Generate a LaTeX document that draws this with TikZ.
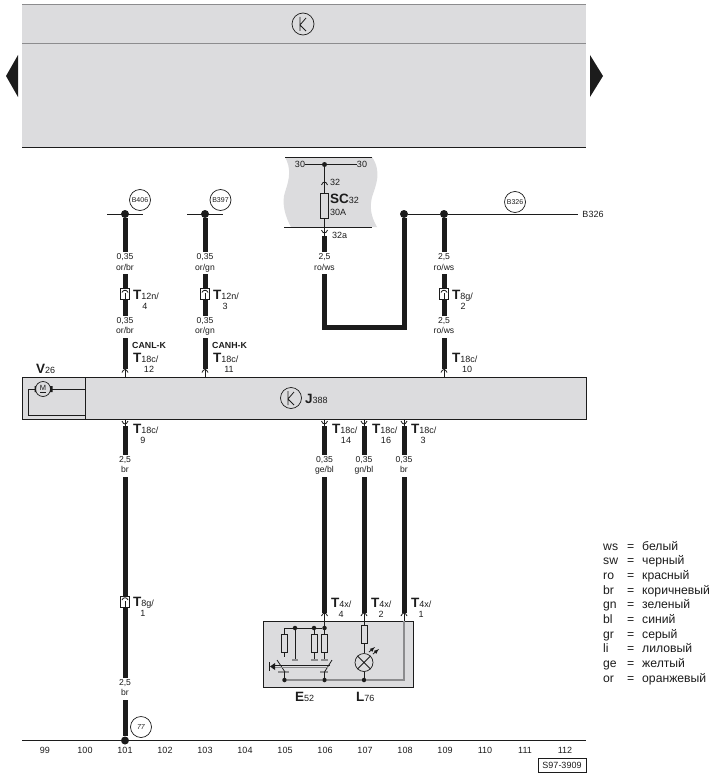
\documentclass[tikz,border=0pt]{standalone}
\usepackage{fontspec}
\setmainfont{Liberation Sans}
\usetikzlibrary{positioning}
\definecolor{panelGray}{HTML}{DCDCDE}
\definecolor{ruleGray}{HTML}{8C8C8E}
\definecolor{ink}{HTML}{1C1C1C}
\tikzset{
    wire/.style={ink, line width=5pt},
    thinwire/.style={ink, line width=0.8pt},
    greywire/.style={ruleGray, line width=1.3pt},
    dot/.style={circle, fill=ink, inner sep=0pt, minimum size=#1},
    tag/.style={circle, draw=ink, line width=0.7pt, inner sep=0pt, minimum size=21pt, font=\fontsize{7}{8}\selectfont, text=ink},
    wirelabel/.style={fill=white, inner sep=0pt, minimum height=22pt, align=center, text=ink, font=\fontsize{8.6}{10.4}\selectfont},
    plugbox/.style={rectangle, draw=ink, fill=white, line width=0.7pt, inner sep=0pt, minimum width=9.5pt, minimum height=11pt},
    plain/.style={inner sep=0pt, text=ink, font=\fontsize{9}{10}\selectfont},
    pinname/.style={plain, anchor=base west},
    legend/.style={plain, anchor=base west, font=\fontsize{12.2}{13}\selectfont},
    resistor/.style={rectangle, draw=ink, line width=0.7pt, inner sep=0pt, minimum width=6pt, minimum height=18pt},
    bar/.style={ruleGray, line width=1.3pt},
    pincap/.pic={\draw[thinwire] (-3,2.5) .. controls (-1.5,-1.5) and (1.5,-1.5) .. (3,2.5);}
}
\newcommand{\tname}[2]{{\fontsize{13.5}{14}\selectfont\textbf{#1}}{\fontsize{9}{10}\selectfont #2}}

\begin{document}
\begin{tikzpicture}[x=1pt, y=-1pt]
    \useasboundingbox (0, 0) rectangle (717, 776);

    % upper panel
    \fill[panelGray] (22, 5) rectangle (586, 147);
    \draw[ruleGray, line width=1pt] (22, 5) -- (586, 5);
    \draw[ruleGray, line width=1pt] (22, 44) -- (586, 44);
    \draw[ink, line width=0.8pt] (22, 147) -- (586, 147);
    \fill[ink] (18, 55) -- (6, 76) -- (18, 97) -- cycle;
    \fill[ink] (590, 55) -- (603, 76) -- (590, 97) -- cycle;
    \node[tag, minimum size=22pt] (kTop) at (303, 24) {};
    \draw[thinwire] (300, 17) -- (300, 31) (306, 18) -- (300, 25) -- (306, 31);

    % fuse block
    \fill[panelGray] (285, 157) .. controls (291, 168) and (290, 178) .. (285, 192)
        .. controls (281, 204) and (286, 218) .. (291, 227) -- (377, 227)
        .. controls (370, 215) and (370, 206) .. (372, 197)
        .. controls (376, 185) and (382, 172) .. (372, 157) -- cycle;
    \draw[thinwire] (285, 157.5) -- (372, 157.5);
    \draw[thinwire] (284, 227) -- (372, 227);
    \node[plain] (t30a) at (300, 164.5) {30};
    \node[plain] (t30b) at (362, 164.5) {30};
    \node[dot=5pt] (n30) at (324.5, 164.5) {};
    \draw[thinwire] (t30a) -- (n30) -- (t30b);
    \node[rectangle, draw=ink, line width=0.7pt, inner sep=0pt, minimum width=7.5pt, minimum height=25pt] (sc) at (324.5, 205.5) {};
    \coordinate (pinSC) at (324.5, 236);
    \draw[thinwire] (n30) -- (sc.north);
    \draw[thinwire] (sc.south) -- (pinSC);
    \pic at (324.5, 182.5) {pincap};
    \pic[yscale=-1] at (324.5, 232.5) {pincap};
    \node[plain, anchor=west] at (330, 182) {32};
    \node[inner sep=0pt, anchor=base west, text=ink] at (330, 203) {\fontsize{13.5}{14}\selectfont\textbf{SC}\fontsize{9}{10}\selectfont 32};
    \node[plain, anchor=west] at (330, 212) {30A};
    \node[plain, anchor=west] at (332, 235) {32a};

    % control unit box
    \node[rectangle, draw=ink, fill=panelGray, line width=0.8pt, inner sep=0pt, minimum width=564pt, minimum height=42pt, anchor=north west] (j388) at (22, 377) {};
    \draw[thinwire] (85, 377) -- (85, 419);
    \node[tag] (kUnit) at (291, 398) {};
    \draw[thinwire] (288, 391) -- (288, 405) (294, 392) -- (288, 399) -- (294, 405);
    \node[inner sep=0pt, anchor=base west, text=ink] at (305, 403) {\tname{J}{388}};
    \node[inner sep=0pt, anchor=base west, text=ink] at (36, 373) {\tname{V}{26}};
    \node[circle, draw=ink, line width=0.7pt, inner sep=0pt, minimum size=15pt, text=ink, font=\fontsize{7.5}{8}\selectfont] (motor) at (43, 389) {\underline{M}};
    \fill[ink] (34.5, 386) rectangle (36, 392) (50, 386) rectangle (52.5, 392);
    \draw[thinwire] (motor) -- (85, 389);
    \draw[thinwire] (motor) -- (28, 389) -- (28, 415) -- (85, 415);

    % upper tags and the B326 rail
    \foreach \cX/\cName in {125/B406, 205/B397}
        \draw[thinwire] (\cX-18, 214) -- (\cX+18, 214);
    \node[dot=8pt] (jB406) at (125, 214) {};
    \node[dot=8pt] (jB397) at (205, 214) {};
    \node[dot=8pt] (jLoop) at (404, 214) {};
    \node[dot=8pt] (jB326) at (444, 214) {};
    \node[plain, inner xsep=4pt] (railEnd) at (593, 214) {B326};
    \draw[thinwire] (jLoop) -- (jB326) -- (railEnd);
    \node[tag] at (140, 200) {B406};
    \node[tag] at (220.5, 200) {B397};
    \node[tag] at (515, 202) {B326};

    % thick wires
    \coordinate (pinA) at (125, 369);
    \coordinate (pinB) at (205, 369);
    \coordinate (pinC) at (444, 369);
    \coordinate (pinD) at (125, 426);
    \coordinate (pinE) at (324.5, 426);
    \coordinate (pinF) at (364, 426);
    \coordinate (pinG) at (404, 426);
    \coordinate (pinH) at (324.5, 613);
    \coordinate (pinI) at (364, 613);
    \coordinate (pinJ) at (404, 613);
    \node[dot=8pt] (jEarth) at (125, 740.5) {};
    \draw[ink, line width=0.8pt] (22, 740.5) -- (jEarth) -- (586, 740.5);
    \draw[wire] (jB406) -- (pinA);
    \draw[wire] (jB397) -- (pinB);
    \draw[wire] (jB326) -- (pinC);
    \draw[wire] (pinD) -- (jEarth);
    \draw[wire] (pinE) -- (pinH);
    \draw[wire] (pinF) -- (pinI);
    \draw[wire] (pinG) -- (pinJ);
    \draw[wire, line join=miter] (pinSC) -- (324.5, 327) -- (404, 327) -- (jLoop);
    \foreach \cX in {125, 205, 444}
        \draw[thinwire] (\cX, 369) -- (\cX, 377);
    \foreach \cX in {125, 205, 444}
        \pic at (\cX, 370) {pincap};
    \foreach \cX in {125, 324.5, 364, 404} {
        \draw[thinwire] (\cX, 419) -- (\cX, 427);
        \pic[yscale=-1] at (\cX, 423.5) {pincap};
    }

    % wire labels
    \foreach \cX/\cY/\cSize/\cCode [count=\cI] in {125/263/{0,35}/{or/br}, 205/263/{0,35}/{or/gn}, 324.5/263/{2,5}/{ro/ws}, 444/263/{2,5}/{ro/ws},
            125/326.5/{0,35}/{or/br}, 205/326.5/{0,35}/{or/gn}, 444/326.5/{2,5}/{ro/ws},
            125/465.5/{2,5}/br, 324.5/465.5/{0,35}/{ge/bl}, 364/465.5/{0,35}/{gn/bl}, 404/465.5/{0,35}/br, 125/688.5/{2,5}/br}
        \node[wirelabel] (wl\cI) at (\cX, \cY) {\strut\cSize\\\strut\cCode};

    % plugs in the wires
    \foreach \cX/\cY [count=\cI] in {125/294, 205/294, 444/294, 125/601.5} {
        \node[plugbox] (plug\cI) at (\cX, \cY) {};
        \draw[thinwire] (plug\cI.south) -- ++(0, -6.5);
        \draw[thinwire] (\cX-3, \cY-1.5) .. controls (\cX-2, \cY-4.5) and (\cX+2, \cY-4.5) .. (\cX+3, \cY-1.5);
    }

    % pin names
    \foreach \cX/\cY/\cSub/\cNum/\cOff [count=\cI] in {133/294/{12n/}/4/12, 213/294/{12n/}/3/12, 452/294/{8g/}/2/11,
            133/357/{18c/}/12/16, 213/357/{18c/}/11/16, 452/357/{18c/}/10/15,
            133/428/{18c/}/9/10, 332/428/{18c/}/14/14, 372/428/{18c/}/16/14, 411/428/{18c/}/3/12,
            133/601/{8g/}/1/10, 331/602/{4x/}/4/10, 371/602/{4x/}/2/10, 411/602/{4x/}/1/10} {
        \node[pinname] (pn\cI) at (\cX, \cY+5) {\tname{T}{\cSub}};
        \node[plain] (pv\cI) at (\cX+\cOff, \cY+12) {\cNum};
    }
    \node[pinname, font=\fontsize{8.8}{9}\selectfont\bfseries] (canL) at (132, 348.5) {CANL-K};
    \node[pinname, font=\fontsize{8.8}{9}\selectfont\bfseries] (canH) at (212, 348.5) {CANH-K};

    % switch and lamp unit
    \node[rectangle, draw=ink, fill=panelGray, line width=0.8pt, inner sep=0pt, minimum width=150pt, minimum height=66.5pt, anchor=north west] (unit) at (263, 620.5) {};
    \foreach \cX in {324.5, 364, 404} {
        \draw[thinwire] (\cX, 613) -- (\cX, 621);
        \pic at (\cX, 613.5) {pincap};
    }
    \node[dot=4.5pt] (a1) at (324.5, 628) {};
    \node[dot=4.5pt] (a2) at (314, 628) {};
    \node[dot=4.5pt] (a3) at (295, 628) {};
    \coordinate (a4) at (284.5, 628);
    \draw[thinwire] (324.5, 621) -- (a1) -- (a2) -- (a3) -- (a4);
    \node[resistor] (r1) at (284.5, 643) {};
    \node[resistor] (r2) at (314, 643) {};
    \node[resistor] (r3) at (324.5, 643) {};
    \node[resistor] (r4) at (364, 634) {};
    \draw[thinwire] (a4) -- (r1.north) (r1.south) -- (284.5, 657);
    \draw[thinwire] (a2) -- (r2.north) (r2.south) -- (314, 660);
    \draw[thinwire] (a1) -- (r3.north) (r3.south) -- (324.5, 660);
    \draw[thinwire] (a3) -- (295, 660);
    \draw[bar] (292, 660) -- (298, 660) (310.5, 660) -- (317.5, 660) (321, 660) -- (328, 660);
    \draw[bar] (278, 672) -- (289, 672) (320, 672) -- (328, 672);
    \draw[thinwire] (277, 660) -- (285, 672) (332, 660) -- (324.5, 672);
    \draw[thinwire] (273, 665.5) -- (330, 665.5);
    \draw[greywire] (273, 667.5) -- (328, 667.5);
    \fill[ink] (270, 666.5) -- (275, 663) -- (275, 670) -- cycle;
    \draw[ink, line width=1.2pt] (269.5, 662) -- (269.5, 671);
    \node[dot=4.5pt] (b1) at (284.5, 680) {};
    \node[dot=4.5pt] (b2) at (324.5, 680) {};
    \node[dot=4.5pt] (b3) at (364, 680) {};
    \draw[thinwire] (284.5, 672) -- (b1) (324.5, 672) -- (b2);
    \node[circle, draw=ink, line width=0.7pt, inner sep=0pt, minimum size=18pt] (lamp) at (364, 662.5) {};
    \draw[thinwire] (lamp.north west) -- (lamp.south east) (lamp.north east) -- (lamp.south west);
    \draw[thinwire] (364, 621) -- (r4.north) (r4.south) -- (lamp.north) (lamp.south) -- (b3);
    \draw[thinwire, -latex] (369, 652) -- (375, 647);
    \draw[thinwire, -latex] (373, 654) -- (379, 649);
    \draw[greywire] (b1) -- (b2) -- (b3) -- (404, 680) -- (404, 621);
    \node[inner sep=0pt, anchor=base west, text=ink] at (295, 701.5) {\tname{E}{52}};
    \node[inner sep=0pt, anchor=base west, text=ink] at (356, 701.5) {\tname{L}{76}};

    % bottom
    \node[tag] at (141, 727) {\textit{77}};
    \foreach \cNum [count=\cI from 0] in {99, 100, ..., 112}
        \node[plain] (col\cNum) at (45+\cI*40, 750.5) {\cNum};
    \node[rectangle, draw=ink, line width=0.8pt, inner sep=0pt, minimum width=48pt, minimum height=14.5pt, text=ink, font=\fontsize{9}{10}\selectfont] (drawingNo) at (562, 765.5) {S97-3909};

    % colour legend
    \foreach \cCode/\cWord [count=\cI from 0] in {ws/белый, sw/черный, ro/красный, br/коричневый, gn/зеленый, bl/синий, gr/серый, li/лиловый, ge/желтый, or/оранжевый} {
        \node[legend] (lc\cI) at (603, 550+\cI*14.7) {\cCode};
        \node[legend] (le\cI) at (627, 550+\cI*14.7) {=};
        \node[legend] (lw\cI) at (642, 550+\cI*14.7) {\cWord};
    }
\end{tikzpicture}
\end{document}
